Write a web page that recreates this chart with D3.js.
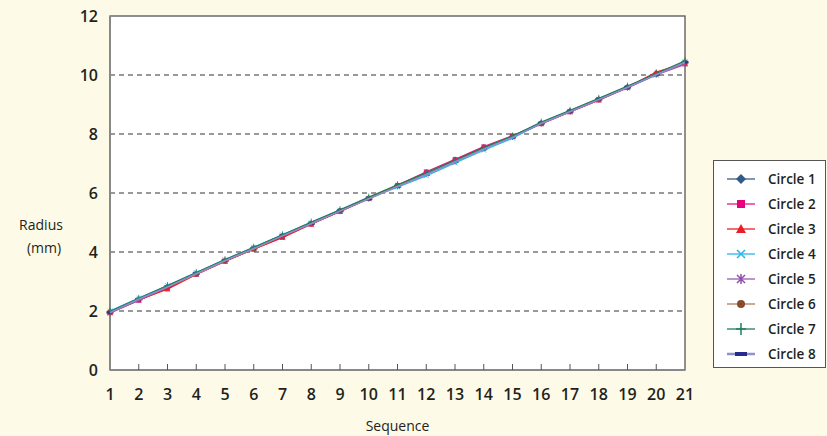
<!DOCTYPE html>
<html>
<head>
  <meta charset="utf-8">
  <script src="https://d3js.org/d3.v7.min.js"></script>
  <style>
    body { margin: 0; background: #fdfbe8; }
    svg { display: block; font-family: "Open Sans", "Noto Sans", sans-serif; }
    .tick-label { font-size: 16px; font-weight: 600; fill: #231f20; }
    .axis-title { font-size: 14px; font-weight: 500; fill: #231f20; }
    .legend-text { font-size: 13.5px; font-weight: 600; fill: #231f20; }
    .grid line { stroke: #333; stroke-dasharray: 5,4; stroke-width: 1; }
  </style>
</head>
<body>
<div id="chart"></div>
<script>
  const width = 827, height = 436;
  const margin = {top: 16, right: 142, bottom: 66, left: 110};

  const sequence = d3.range(1, 22);
  const yTicks = [0, 2, 4, 6, 8, 10, 12];
  const seriesNames = ["Circle 1", "Circle 2", "Circle 3", "Circle 4", "Circle 5", "Circle 6", "Circle 7", "Circle 8"];

  // radius (mm) per circle
  const circle1 = [1.97, 2.41, 2.84, 3.28, 3.72, 4.14, 4.57, 4.98, 5.41, 5.83, 6.26, 6.67, 7.10, 7.52, 7.92, 8.38, 8.78, 9.19, 9.60, 10.03, 10.44];
  const circle2 = [1.94, 2.36, 2.78, 3.25, 3.69, 4.10, 4.52, 4.95, 5.38, 5.82, 6.26, 6.72, 7.14, 7.57, 7.94, 8.36, 8.76, 9.16, 9.58, 10.04, 10.38];
  const circle3 = [1.95, 2.38, 2.74, 3.24, 3.68, 4.10, 4.49, 4.94, 5.38, 5.81, 6.25, 6.66, 7.10, 7.54, 7.91, 8.34, 8.75, 9.15, 9.58, 10.10, 10.40];
  const circle4 = [2.00, 2.44, 2.86, 3.30, 3.74, 4.16, 4.58, 4.99, 5.42, 5.82, 6.20, 6.58, 7.02, 7.45, 7.86, 8.36, 8.77, 9.18, 9.58, 10.00, 10.46];
  const circle5 = [1.93, 2.37, 2.80, 3.26, 3.70, 4.12, 4.54, 4.95, 5.38, 5.80, 6.22, 6.64, 7.06, 7.50, 7.90, 8.35, 8.75, 9.16, 9.56, 10.00, 10.36];
  const circle6 = [1.96, 2.39, 2.82, 3.25, 3.70, 4.10, 4.55, 4.97, 5.40, 5.82, 6.24, 6.66, 7.08, 7.51, 7.92, 8.37, 8.78, 9.18, 9.60, 10.04, 10.42];
  const circle7 = [1.99, 2.43, 2.86, 3.30, 3.74, 4.16, 4.58, 5.01, 5.43, 5.86, 6.28, 6.68, 7.11, 7.54, 7.93, 8.40, 8.80, 9.21, 9.62, 10.05, 10.48];
  const circle8 = [1.95, 2.40, 2.82, 3.27, 3.71, 4.12, 4.55, 4.96, 5.39, 5.80, 6.22, 6.62, 7.06, 7.49, 7.89, 8.36, 8.76, 9.17, 9.58, 10.01, 10.43];
  const values = [circle1, circle2, circle3, circle4, circle5, circle6, circle7, circle8];

  const lineColors = ["#3a5f85", "#e6157f", "#ec1c24", "#2bb5e9", "#9b59b6", "#b07a5e", "#1e7f5c", "#8d8fd2"];
  const markColors = ["#2f5b86", "#e6007e", "#ec1c24", "#2bb5e9", "#8e4fa8", "#8a4a2c", "#1e7f5c", "#262a8c"];
  const symbols = ["diamond", "square", "triangle", "x", "star", "circle", "plus", "bar"];

  const svg = d3.select("#chart").append("svg")
    .attr("width", width)
    .attr("height", height);

  const x = d3.scaleLinear().domain([1, 21]).range([margin.left, width - margin.right]);
  const y = d3.scaleLinear().domain([0, 12]).range([height - margin.bottom, margin.top]);

  // plot area
  svg.append("rect")
    .attr("x", x(1)).attr("y", y(12))
    .attr("width", x(21) - x(1)).attr("height", y(0) - y(12))
    .attr("fill", "#fff").attr("stroke", "#555").attr("stroke-width", 1.3);

  svg.append("g").attr("class", "grid")
    .selectAll("line")
    .data(yTicks.filter(d => d > 0 && d < 12))
    .join("line")
    .attr("x1", x(1)).attr("x2", x(21))
    .attr("y1", d => y(d)).attr("y2", d => y(d));

  // axis lines
  svg.append("line").attr("x1", x(1)).attr("x2", x(1)).attr("y1", y(12)).attr("y2", y(0))
    .attr("stroke", "#888").attr("stroke-width", 2);
  svg.append("line").attr("x1", x(1)).attr("x2", x(21)).attr("y1", y(0)).attr("y2", y(0))
    .attr("stroke", "#888").attr("stroke-width", 2);

  svg.append("g").selectAll("line")
    .data(sequence.slice(1, -1))
    .join("line")
    .attr("x1", d => x(d)).attr("x2", d => x(d))
    .attr("y1", y(0)).attr("y2", y(0) - 6)
    .attr("stroke", "#555").attr("stroke-width", 1);

  svg.append("g").selectAll("text")
    .data(yTicks)
    .join("text")
    .attr("class", "tick-label")
    .attr("x", x(1) - 12).attr("y", d => y(d) + 6)
    .attr("text-anchor", "end")
    .text(d => d);

  svg.append("g").selectAll("text")
    .data(sequence)
    .join("text")
    .attr("class", "tick-label")
    .attr("x", d => x(d)).attr("y", y(0) + 30)
    .attr("text-anchor", "middle")
    .text(d => d);

  svg.append("text").attr("class", "axis-title")
    .attr("x", (x(1) + x(21)) / 2).attr("y", 431)
    .attr("text-anchor", "middle").text("Sequence");
  svg.append("text").attr("class", "axis-title")
    .attr("x", 41).attr("y", 230).attr("text-anchor", "middle").text("Radius");
  svg.append("text").attr("class", "axis-title")
    .attr("x", 44).attr("y", 253).attr("text-anchor", "middle").text("(mm)");

  function drawMarker(g, type, color) {
    if (type === "diamond") {
      g.append("path").attr("d", "M0,-5L5,0L0,5L-5,0Z").attr("fill", color);
    } else if (type === "square") {
      g.append("rect").attr("x", -4).attr("y", -4).attr("width", 8).attr("height", 8).attr("fill", color);
    } else if (type === "triangle") {
      g.append("path").attr("d", "M0,-5L5,4L-5,4Z").attr("fill", color);
    } else if (type === "x") {
      g.append("path").attr("d", "M-4,-4L4,4M-4,4L4,-4").attr("stroke", color).attr("stroke-width", 1.5);
    } else if (type === "star") {
      g.append("path").attr("d", "M-4,-4L4,4M-4,4L4,-4M0,-5L0,5").attr("stroke", color).attr("stroke-width", 1.5);
    } else if (type === "circle") {
      g.append("circle").attr("r", 4).attr("fill", color);
    } else if (type === "plus") {
      g.append("path").attr("d", "M0,-6L0,6M-5,0L5,0").attr("stroke", color).attr("stroke-width", 1.5);
    } else {
      g.append("rect").attr("x", -6).attr("y", -2).attr("width", 12).attr("height", 4).attr("fill", color);
    }
  }

  const line = d3.line().x((d, i) => x(sequence[i])).y(d => y(d));

  // markers first, lines drawn over them
  values.forEach((vals, s) => {
    vals.forEach((v, i) => {
      const g = svg.append("g")
        .attr("transform", `translate(${x(sequence[i])},${y(v)}) scale(0.6)`)
        .attr("opacity", 0.85);
      drawMarker(g, symbols[s], markColors[s]);
    });
  });
  values.forEach((vals, s) => {
    svg.append("path")
      .datum(vals)
      .attr("fill", "none")
      .attr("stroke", lineColors[s])
      .attr("stroke-width", 1.3)
      .attr("d", line);
  });

  // legend
  const legend = svg.append("g");
  legend.append("rect")
    .attr("x", 713.5).attr("y", 160.5).attr("width", 112).attr("height", 207)
    .attr("fill", "#fff").attr("stroke", "#555").attr("stroke-width", 1);

  seriesNames.forEach((name, s) => {
    const cy = 179 + s * 25;
    legend.append("line")
      .attr("x1", 727).attr("x2", 755).attr("y1", cy).attr("y2", cy)
      .attr("stroke", lineColors[s]).attr("stroke-width", s === 7 ? 2.5 : 1.3);
    const g = legend.append("g").attr("transform", `translate(741,${cy})`);
    drawMarker(g, symbols[s], markColors[s]);
    legend.append("text").attr("class", "legend-text")
      .attr("x", 768).attr("y", cy + 5).text(name);
  });
</script>
</body>
</html>
